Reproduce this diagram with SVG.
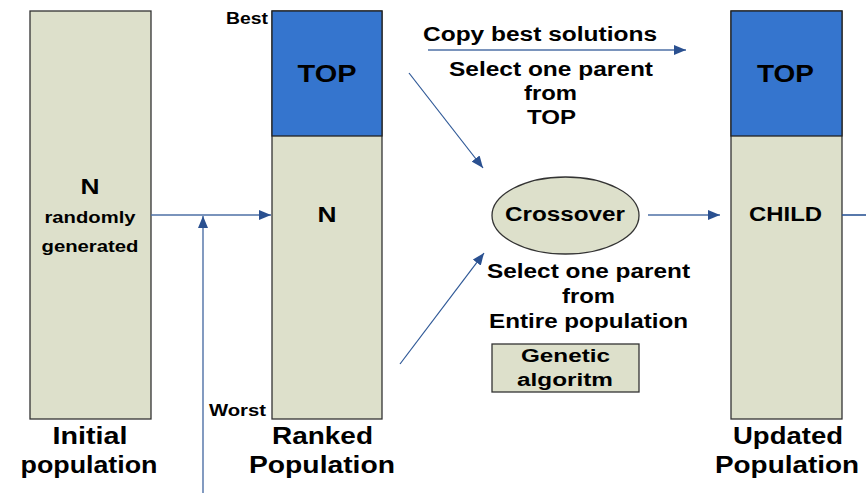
<svg xmlns="http://www.w3.org/2000/svg" width="866" height="493" viewBox="0 0 866 493">
<defs>
<style>
.box{fill:#dde0cb;stroke:#333;stroke-width:1.3}
.top{fill:#3575ce;stroke:#222;stroke-width:1.3}
text{font-family:"Liberation Sans",Arial,sans-serif;font-weight:bold;fill:#000;text-anchor:middle}
.ln{stroke:#4e70a6;stroke-width:1.4;fill:none}
.dl{stroke:#2d5796;stroke-width:1.2;fill:none}
</style>
<marker id="ah2" viewBox="0 0 12 10" refX="12" refY="5" markerWidth="12" markerHeight="10" markerUnits="userSpaceOnUse" orient="auto">
<path d="M0,0 L12,5 L0,10 z" fill="#2a5090"/>
</marker>
</defs>
<rect width="866" height="493" fill="#fff"/>
<g id="initial">
<rect class="box" x="30" y="11" width="121" height="408"/>
<text x="90" y="194" font-size="22" textLength="19" lengthAdjust="spacingAndGlyphs">N</text>
<text x="90" y="223" font-size="16" textLength="91" lengthAdjust="spacingAndGlyphs">randomly</text>
<text x="90" y="252" font-size="16" textLength="97" lengthAdjust="spacingAndGlyphs">generated</text>
<text x="90" y="444" font-size="23" textLength="75" lengthAdjust="spacingAndGlyphs">Initial</text>
<text x="89" y="473" font-size="23" textLength="137" lengthAdjust="spacingAndGlyphs">population</text>
</g>
<g id="ranked">
<rect class="box" x="272" y="11" width="110" height="408"/>
<rect class="top" x="272" y="11" width="110" height="125"/>
<text x="327" y="82" font-size="24" textLength="59" lengthAdjust="spacingAndGlyphs">TOP</text>
<text x="327" y="222" font-size="22" textLength="19" lengthAdjust="spacingAndGlyphs">N</text>
<text x="247" y="24" font-size="16" textLength="42" lengthAdjust="spacingAndGlyphs">Best</text>
<text x="237.5" y="416" font-size="16" textLength="57" lengthAdjust="spacingAndGlyphs">Worst</text>
<text x="322.5" y="444" font-size="23" textLength="101" lengthAdjust="spacingAndGlyphs">Ranked</text>
<text x="322" y="473" font-size="23" textLength="146" lengthAdjust="spacingAndGlyphs">Population</text>
</g>
<g id="updated">
<rect class="box" x="731" y="11" width="111" height="408"/>
<rect class="top" x="731" y="11" width="111" height="125"/>
<text x="785.5" y="82" font-size="24" textLength="57" lengthAdjust="spacingAndGlyphs">TOP</text>
<text x="785.5" y="221" font-size="20" textLength="73" lengthAdjust="spacingAndGlyphs">CHILD</text>
<text x="788" y="444" font-size="23" textLength="110" lengthAdjust="spacingAndGlyphs">Updated</text>
<text x="787" y="473" font-size="23" textLength="144" lengthAdjust="spacingAndGlyphs">Population</text>
</g>
<g id="crossover">
<ellipse cx="565.5" cy="215.5" rx="73.5" ry="38.5" fill="#dde0cb" stroke="#333" stroke-width="1.3"/>
<text x="565" y="221" font-size="20" textLength="120" lengthAdjust="spacingAndGlyphs">Crossover</text>
</g>
<g id="genetic">
<rect class="box" x="492" y="344" width="147" height="48"/>
<text x="565.5" y="362" font-size="18" textLength="89" lengthAdjust="spacingAndGlyphs">Genetic</text>
<text x="565" y="386" font-size="18" textLength="96" lengthAdjust="spacingAndGlyphs">algoritm</text>
</g>
<g id="labels">
<text x="540" y="41" font-size="20" textLength="234" lengthAdjust="spacingAndGlyphs">Copy best solutions</text>
<text x="551" y="76" font-size="20" textLength="204" lengthAdjust="spacingAndGlyphs">Select one parent</text>
<text x="550.5" y="100" font-size="20" textLength="53" lengthAdjust="spacingAndGlyphs">from</text>
<text x="551.5" y="124" font-size="20" textLength="49" lengthAdjust="spacingAndGlyphs">TOP</text>
<text x="588.5" y="278" font-size="20" textLength="203" lengthAdjust="spacingAndGlyphs">Select one parent</text>
<text x="588.5" y="303" font-size="20" textLength="53" lengthAdjust="spacingAndGlyphs">from</text>
<text x="588.5" y="328" font-size="20" textLength="199" lengthAdjust="spacingAndGlyphs">Entire population</text>
</g>
<g id="connectors">
<line class="ln" x1="151" y1="215" x2="271" y2="215" marker-end="url(#ah2)"/>
<line class="ln" x1="203" y1="493" x2="203" y2="216" marker-end="url(#ah2)"/>
<line class="ln" x1="428" y1="50" x2="686" y2="50" marker-end="url(#ah2)"/>
<line class="dl" x1="409" y1="73" x2="483" y2="168" marker-end="url(#ah2)"/>
<line class="dl" x1="400" y1="364" x2="484" y2="253" marker-end="url(#ah2)"/>
<line class="ln" x1="648" y1="215" x2="720" y2="215" marker-end="url(#ah2)"/>
<line x1="842" y1="215" x2="866" y2="215" stroke="#2d5796" stroke-width="1.6"/>
</g>
</svg>
